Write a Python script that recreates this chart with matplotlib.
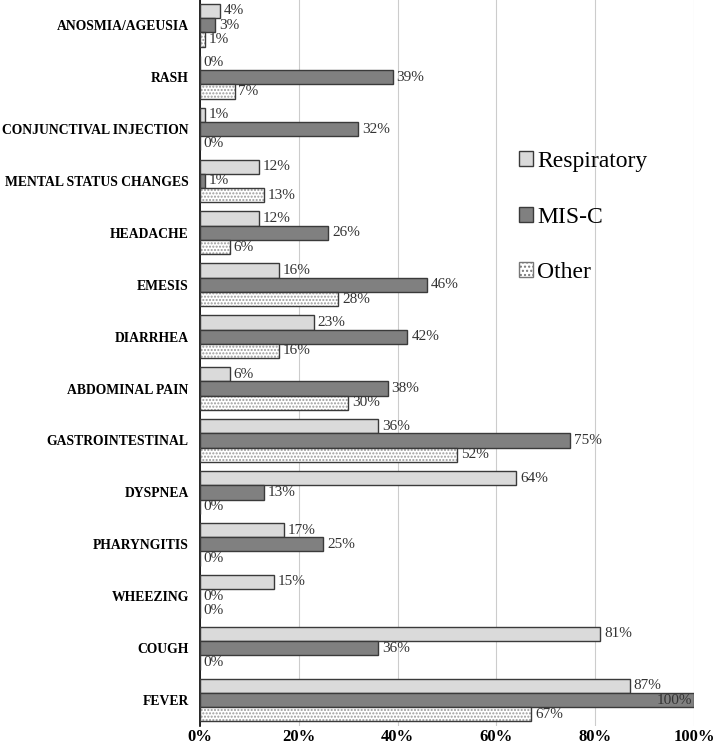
import matplotlib.pyplot as plt
from matplotlib.patches import Patch
import numpy as np

plt.rcParams['font.family'] = ['Liberation Serif', 'DejaVu Serif']

symptoms = ['ANOSMIA/AGEUSIA', 'RASH', 'CONJUNCTIVAL INJECTION', 'MENTAL STATUS CHANGES',
            'HEADACHE', 'EMESIS', 'DIARRHEA', 'ABDOMINAL PAIN', 'GASTROINTESTINAL',
            'DYSPNEA', 'PHARYNGITIS', 'WHEEZING', 'COUGH', 'FEVER']
respiratory = [4, 0, 1, 12, 12, 16, 23, 6, 36, 64, 17, 15, 81, 87]
misc = [3, 39, 32, 1, 26, 46, 42, 38, 75, 13, 25, 0, 36, 100]
other = [1, 7, 0, 13, 6, 28, 16, 30, 52, 0, 0, 0, 0, 67]

fig = plt.figure(figsize=(7.14, 7.5), dpi=100)
ax = fig.add_axes([0.280, 0.032, 0.692, 0.969])

n = len(symptoms)
y = np.arange(n)[::-1]
h = 0.275
edge = '#3a3a3a'

ax.barh(y + h, respiratory, height=h, color='#dadada', edgecolor=edge, linewidth=1, zorder=3)
ax.barh(y, misc, height=h, color='#808080', edgecolor=edge, linewidth=1, zorder=3)
ax.barh(y - h, other, height=h, color='white', edgecolor='#9a9a9a', hatch='.....',
        linewidth=0, zorder=3)
ax.barh(y - h, other, height=h, fill=False, edgecolor=edge, linewidth=1, zorder=4)

def put_labels(vals, off):
    for yi, v in zip(y, vals):
        if v >= 100:
            ax.text(v - 0.3, yi + off, f'{v}%', va='center', ha='right', fontsize=11, color='#333333', zorder=5)
        else:
            ax.text(v + 0.8, yi + off, f'{v}%', va='center', ha='left', fontsize=11, color='#333333', zorder=5)

put_labels(respiratory, h)
put_labels(misc, 0)
put_labels(other, -h)

ax.set_xlim(0, 100)
ax.set_ylim(-0.5, n - 0.5)
ax.set_yticks(y)
ax.set_yticklabels(symptoms, fontweight='bold', fontsize=9.8)
ax.set_xticks([0, 20, 40, 60, 80, 100])
ax.set_xticklabels(['0%', '20%', '40%', '60%', '80%', '100%'], fontweight='bold', fontsize=12)
ax.tick_params(axis='both', length=0)
ax.tick_params(axis='y', pad=8)
ax.tick_params(axis='x', pad=2)
ax.grid(axis='x', color='#cccccc', linewidth=0.8, zorder=0)
for s in ['top', 'right', 'bottom']:
    ax.spines[s].set_visible(False)
ax.spines['left'].set_color('black')
ax.spines['left'].set_linewidth(1.2)

handles = [Patch(facecolor='#dadada', edgecolor=edge, label='Respiratory'),
           Patch(facecolor='#808080', edgecolor=edge, label='MIS-C'),
           Patch(facecolor='white', edgecolor='#777777', hatch='....', label='Other')]
ax.legend(handles=handles, loc='upper left', bbox_to_anchor=(0.602, 0.82), frameon=False,
          fontsize=17, handlelength=0.6, handleheight=0.6, handletextpad=0.2, labelspacing=1.45)

fig.savefig('out.png', dpi=100)
